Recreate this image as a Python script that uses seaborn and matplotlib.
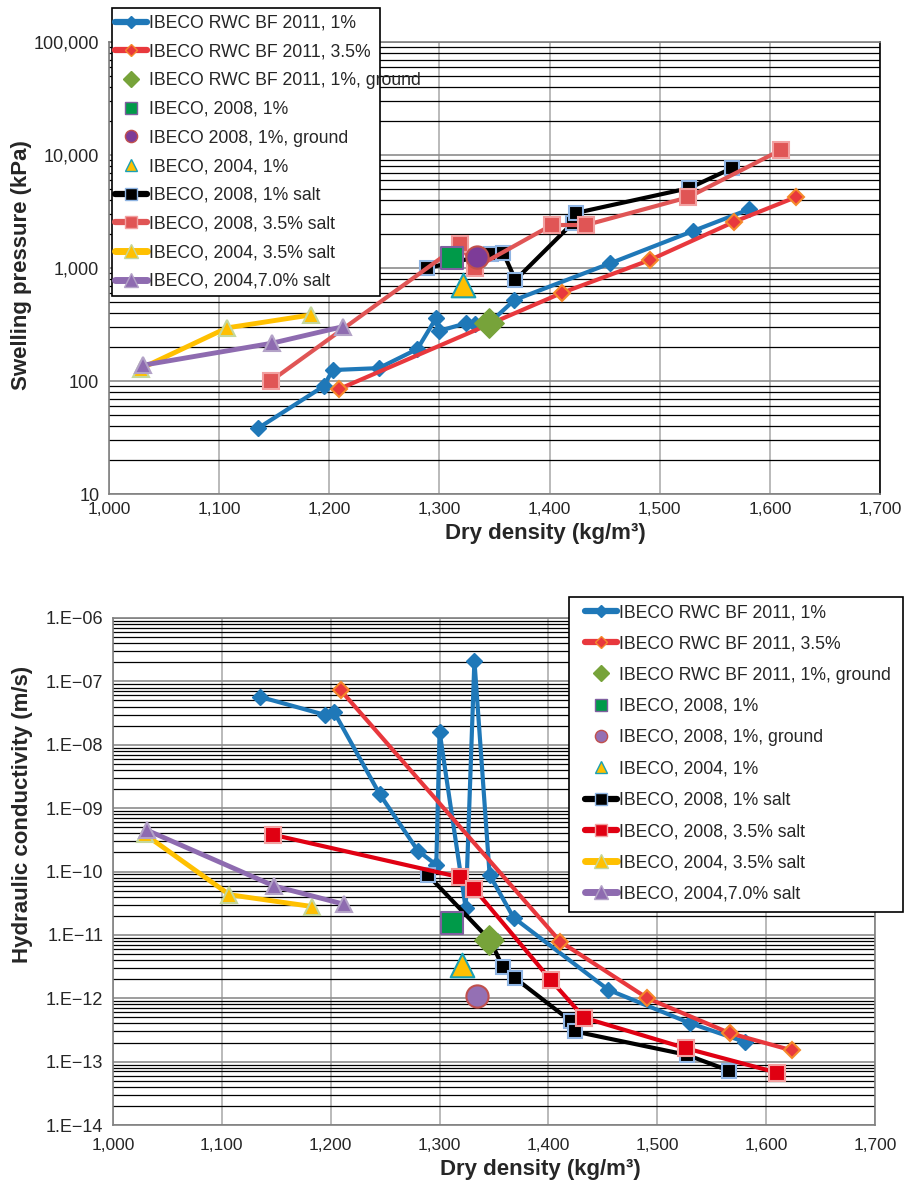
import numpy as np
import pandas as pd
import matplotlib
matplotlib.use("Agg")
import matplotlib.pyplot as plt
import seaborn as sns
from matplotlib.lines import Line2D
from matplotlib.patches import Rectangle
from matplotlib.ticker import FixedLocator, FuncFormatter, LogLocator, NullFormatter

sns.set_theme(style="white")
plt.rcParams["font.family"] = ["Liberation Sans", "DejaVu Sans"]

# ---------------- data ----------------
# IBECO RWC BF 2011, 1%
rwc1_density = [1135, 1195, 1203, 1245, 1280, 1297, 1300, 1324, 1332, 1346, 1368, 1455, 1530, 1581]
rwc1_swell = [38, 90, 125, 130, 192, 361, 278, 324, 318, 330, 520, 1100, 2120, 3300]
rwc1_hc = [5.7e-8, 2.95e-8, 3.3e-8, 1.66e-9, 2.14e-10, 1.27e-10, 1.61e-8, 2.64e-11, 2.12e-7,
           8.8e-11, 1.87e-11, 1.36e-12, 4.05e-13, 2.03e-13]
# IBECO RWC BF 2011, 3.5%
rwc35_density = [1209, 1411, 1491, 1567, 1624]
rwc35_swell = [85, 601, 1177, 2550, 4250]
rwc35_hc = [7.3e-8, 7.8e-12, 1.0e-12, 2.8e-13, 1.5e-13]
# IBECO RWC BF 2011, 1%, ground
rwcg_density = [1345]
rwcg_swell = [324]
rwcg_hc = [8.3e-12]
# IBECO, 2008, 1%
i08_density = [1311]
i08_swell = [1220]
i08_hc = [1.53e-11]
# IBECO, 2008, 1%, ground
i08g_density = [1334]
i08g_swell = [1245]
i08g_hc = [1.09e-12]
# IBECO, 2004, 1%
i04_density = [1321]
i04_swell = [705]
i04_hc = [3.4e-12]
# IBECO, 2008, 1% salt
i08s1_density = [1289, 1347, 1358, 1369, 1421, 1424, 1527, 1566]
i08s1_swell = [1000, 1330, 1360, 783, 2500, 3070, 5100, 7680]
i08s1_hc = [8.9e-11, 8.0e-12, 3.1e-12, 2.1e-12, 4.3e-13, 3.0e-13, 1.28e-13, 7.2e-14]
# IBECO, 2008, 3.5% salt
i08s35_density = [1147, 1319, 1332, 1402, 1433, 1526, 1610]
i08s35_swell = [100, 1630, 1000, 2400, 2400, 4230, 11070]
i08s35_hc = [3.8e-10, 8.1e-11, 5.3e-11, 1.95e-12, 4.9e-13, 1.63e-13, 6.7e-14]
# IBECO, 2004, 3.5% salt
i04s35_density = [1029, 1107, 1183]
i04s35_swell = [129, 295, 384]
i04s35_hc = [3.9e-10, 4.3e-11, 2.8e-11]
# IBECO, 2004, 7.0% salt
i04s7_density = [1031, 1148, 1212]
i04s7_swell = [138, 216, 302]
i04s7_hc = [4.5e-10, 5.9e-11, 3.05e-11]

labels_top = ["IBECO RWC BF 2011, 1%", "IBECO RWC BF 2011, 3.5%", "IBECO RWC BF 2011, 1%, ground",
              "IBECO, 2008, 1%", "IBECO 2008, 1%, ground", "IBECO, 2004, 1%",
              "IBECO, 2008, 1% salt", "IBECO, 2008, 3.5% salt", "IBECO, 2004, 3.5% salt",
              "IBECO, 2004,7.0% salt"]
labels_bottom = ["IBECO RWC BF 2011, 1%", "IBECO RWC BF 2011, 3.5%", "IBECO RWC BF 2011, 1%, ground",
                 "IBECO, 2008, 1%", "IBECO, 2008, 1%, ground", "IBECO, 2004, 1%",
                 "IBECO, 2008, 1% salt", "IBECO, 2008, 3.5% salt", "IBECO, 2004, 3.5% salt",
                 "IBECO, 2004,7.0% salt"]

x_ticks = [1000, 1100, 1200, 1300, 1400, 1500, 1600, 1700]
top_yticks = [10, 100, 1000, 10000, 100000]
bot_yticks = [1e-14, 1e-13, 1e-12, 1e-11, 1e-10, 1e-09, 1e-08, 1e-07, 1e-06]

# ---------------- styles ----------------
BLUE = "#1F78B8"
RED35 = "#E8383D"
ORANGE = "#F5892B"
GREEN_D = "#77A33A"
GREEN_S = "#009A49"
PURPLE_E = "#7F5F9F"
CIRC_TOP = "#7D3C98"
CIRC_BOT = "#9470B4"
CIRC_E = "#C0504D"
YEL = "#FFC000"
TEAL = "#1AA0B4"
BLK_E = "#8EB4E3"
SALMON = "#E05555"
RED08 = "#E00012"
PINK_E = "#F2A0A0"
LGREEN_E = "#C4D79B"
PURP = "#8E6BB0"
PURP_E = "#B3A2C7"


def line_styles(panel):
    s08 = SALMON if panel == "top" else RED08
    return [
        dict(color=BLUE, lw=3.0, marker="D", ms=8, mfc=BLUE, mec=BLUE, mew=1.0),
        dict(color=RED35, lw=3.0, marker="D", ms=8, mfc=RED35, mec=ORANGE, mew=1.5),
        None, None, None, None,
        dict(color="black", lw=3.0, marker="s", ms=10, mfc="black", mec=BLK_E, mew=1.5),
        dict(color=s08, lw=3.0, marker="s", ms=11, mfc=s08, mec=PINK_E, mew=1.5),
        dict(color=YEL, lw=3.5, marker="^", ms=12, mfc=YEL, mec=LGREEN_E, mew=1.5),
        dict(color=PURP, lw=3.5, marker="^", ms=12, mfc=PURP, mec=PURP_E, mew=1.5),
    ]


def point_styles(panel):
    circ = CIRC_TOP if panel == "top" else CIRC_BOT
    return [None, None,
            dict(marker="D", ms=15, mfc=GREEN_D, mec=GREEN_D, mew=1.0),
            dict(marker="s", ms=16, mfc=GREEN_S, mec=PURPLE_E, mew=1.5),
            dict(marker="o", ms=16, mfc=circ, mec=CIRC_E, mew=1.5),
            dict(marker="^", ms=17, mfc=YEL, mec=TEAL, mew=1.5),
            None, None, None, None]


densities = [rwc1_density, rwc35_density, rwcg_density, i08_density, i08g_density, i04_density,
             i08s1_density, i08s35_density, i04s35_density, i04s7_density]
swells = [rwc1_swell, rwc35_swell, rwcg_swell, i08_swell, i08g_swell, i04_swell,
          i08s1_swell, i08s35_swell, i04s35_swell, i04s7_swell]
hcs = [rwc1_hc, rwc35_hc, rwcg_hc, i08_hc, i08g_hc, i04_hc,
       i08s1_hc, i08s35_hc, i04s35_hc, i04s7_hc]


def draw(ax, values, panel, xpad):
    ls = line_styles(panel)
    ps = point_styles(panel)
    handles = []
    for i in range(10):
        d = pd.DataFrame({"x": densities[i], "y": values[i]})
        if ls[i] is not None:
            st = ls[i]
            sns.lineplot(data=d, x="x", y="y", ax=ax, sort=False, estimator=None, legend=False,
                         color=st["color"], lw=st["lw"], marker=st["marker"], markersize=st["ms"],
                         markerfacecolor=st["mfc"], markeredgecolor=st["mec"],
                         markeredgewidth=st["mew"], zorder=3 + i * 0.1)
            handles.append(Line2D([], [], color=st["color"], lw=st["lw"] + 1.5, marker=st["marker"],
                                  markersize=st["ms"] * 0.8, markerfacecolor=st["mfc"],
                                  markeredgecolor=st["mec"], markeredgewidth=1.0))
        else:
            handles.append(None)
    for i in range(10):
        if ps[i] is not None:
            st = ps[i]
            d = pd.DataFrame({"x": densities[i], "y": values[i]})
            sns.scatterplot(data=d, x="x", y="y", ax=ax, marker=st["marker"], s=st["ms"] ** 2,
                            color=st["mfc"], edgecolor=st["mec"], linewidth=st["mew"],
                            legend=False, zorder=6)
            handles[i] = Line2D([], [], lw=0, marker=st["marker"], markersize=st["ms"] * 0.55,
                                markerfacecolor=st["mfc"], markeredgecolor=st["mec"],
                                markeredgewidth=1.0)
    ax.set_yscale("log")
    ax.set_xlim(1000, 1700)
    ax.xaxis.set_major_locator(FixedLocator(x_ticks))
    ax.xaxis.set_major_formatter(FuncFormatter(lambda v, p: f"{int(round(v)):,}"))
    ax.yaxis.set_minor_locator(LogLocator(base=10, subs=np.arange(2, 10), numticks=100))
    ax.yaxis.set_minor_formatter(NullFormatter())
    ax.grid(False)
    ax.grid(which="major", axis="x", color="#B4B4B4", lw=1.3, zorder=0)
    ax.grid(which="minor", axis="y", color="black", lw=0.9, zorder=0)
    ax.grid(which="major", axis="y", color="#8C8C8C", lw=1.2, zorder=0)
    ax.set_axisbelow(True)
    for sp in ax.spines.values():
        sp.set_color("#808080")
        sp.set_linewidth(1.2)
    ax.tick_params(axis="y", which="major", direction="out", length=5, width=1, color="#808080",
                   labelsize=13, pad=2)
    ax.tick_params(axis="y", which="minor", length=0)
    ax.tick_params(axis="x", which="major", direction="out", length=4, width=1, color="#808080",
                   labelsize=12.5, pad=xpad)
    ax.set_xlabel("")
    ax.set_ylabel("")
    return handles


W, H = 905, 1193
fig = plt.figure(figsize=(W / 100, H / 100), dpi=100)
fig.patch.set_facecolor("white")

ax1 = fig.add_axes([109 / W, 1 - 494 / H, 771 / W, 452 / H])
ax2 = fig.add_axes([113 / W, 1 - 1125 / H, 762 / W, 507 / H])

h1 = draw(ax1, swells, "top", 2)
ax1.set_ylim(10, 100000)
ax1.yaxis.set_major_locator(FixedLocator(top_yticks))
ax1.yaxis.set_major_formatter(FuncFormatter(lambda v, p: f"{int(round(v)):,}"))
ax1.spines["right"].set_color("black")

h2 = draw(ax2, hcs, "bottom", 5)
ax2.set_ylim(1e-14, 1e-6)
ax2.yaxis.set_major_locator(FixedLocator(bot_yticks))
ax2.yaxis.set_major_formatter(
    FuncFormatter(lambda v, p: "1.E\u2212" + f"{int(round(-np.log10(v))):02d}"))

# axis titles
fig.text(22 / W, 1 - 265 / H, "Swelling pressure (kPa)", rotation=90, ha="center", va="center",
         fontsize=16, fontweight="bold")
fig.text(545 / W, 1 - 533 / H, "Dry density (kg/m\u00b3)", ha="center", va="center",
         fontsize=16, fontweight="bold")
fig.text(23 / W, 1 - 814 / H, "Hydraulic conductivity (m/s)", rotation=90, ha="center",
         va="center", fontsize=16, fontweight="bold")
fig.text(540 / W, 1 - 1170 / H, "Dry density (kg/m\u00b3)", ha="center", va="center",
         fontsize=16, fontweight="bold")

# legend frames
r1 = Rectangle((112 / W, 1 - 296 / H), 268 / W, 288 / H, transform=fig.transFigure,
               facecolor="white", edgecolor="black", lw=1.2, zorder=5)
r2 = Rectangle((569 / W, 1 - 912 / H), 334 / W, 315 / H, transform=fig.transFigure,
               facecolor="white", edgecolor="black", lw=1.2, zorder=5)
fig.patches.extend([r1, r2])

leg1 = fig.legend(h1, labels_top, loc="upper left", bbox_to_anchor=(115 / W, 1 - 15 / H),
                  bbox_transform=fig.transFigure, frameon=False, fontsize=12.7,
                  handlelength=1.8, handletextpad=0.1, labelspacing=0.66, borderpad=0,
                  borderaxespad=0)
leg1.set_zorder(10)
leg2 = fig.legend(h2, labels_bottom, loc="upper left", bbox_to_anchor=(585 / W, 1 - 604 / H),
                  bbox_transform=fig.transFigure, frameon=False, fontsize=12.7,
                  handlelength=1.8, handletextpad=0.1, labelspacing=0.81, borderpad=0,
                  borderaxespad=0)
leg2.set_zorder(10)

fig.savefig("out.png", dpi=100, facecolor="white")
